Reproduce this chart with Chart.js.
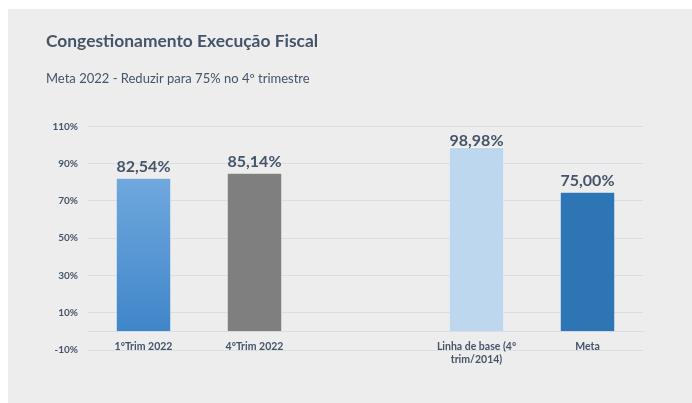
<!DOCTYPE html>
<html>
<head>
<meta charset="utf-8">
<script src="https://cdn.jsdelivr.net/npm/chart.js@4"></script>
<style>
  html, body { margin: 0; padding: 0; background: #ffffff; }
  #panel { position: absolute; left: 8px; top: 9px; width: 684px; height: 394px; background: #ededed; }
  #chart { display: block; }
</style>
</head>
<body>
<div id="panel"><canvas id="chart" width="684" height="394"></canvas></div>
<script>
const categories = ['1ºTrim 2022', '4ºTrim 2022', '', ['Linha de base (4º', 'trim/2014)'], 'Meta'];
const values = [82.54, 85.14, null, 98.98, 75.00];
const tickMin = -10;
const tickMax = 110;
const tickStep = 20;

const textColor = '#44546a';
const gridColor = '#d9dee5';
const barColors = [null, '#7f7f7f', null, '#bdd7ee', '#2e75b6'];

// blue gradient for the first bar, like the original
function barFill(ctx) {
  const color = barColors[ctx.dataIndex];
  if (color) return color;
  const chart = ctx.chart;
  if (!chart.chartArea) return '#5b9bd5';
  const y = chart.scales.y;
  const g = chart.ctx.createLinearGradient(0, y.getPixelForValue(values[0]), 0, y.getPixelForValue(0));
  g.addColorStop(0, '#70a8de');
  g.addColorStop(1, '#3f86c9');
  return g;
}

// value labels above the bars, kept inside the plot area
const valueLabels = {
  id: 'valueLabels',
  afterDatasetsDraw(chart) {
    const ctx = chart.ctx;
    const meta = chart.getDatasetMeta(0);
    ctx.save();
    ctx.font = 'bold 16px Lato';
    ctx.fillStyle = textColor;
    ctx.textAlign = 'center';
    ctx.textBaseline = 'alphabetic';
    meta.data.forEach((bar, i) => {
      const v = values[i];
      if (v == null) return;
      const txt = v.toFixed(2).replace('.', ',') + '%';
      const y = Math.max(bar.y - 6, chart.chartArea.top + 20);
      ctx.fillText(txt, bar.x, y);
    });
    ctx.restore();
  }
};

new Chart(document.getElementById('chart'), {
  type: 'bar',
  data: {
    labels: categories,
    datasets: [{
      data: values,
      backgroundColor: barFill,
      borderColor: 'rgba(255,255,255,0.35)',
      borderWidth: 1,
      barPercentage: 0.5,
      categoryPercentage: 1
    }]
  },
  options: {
    responsive: false,
    animation: false,
    layout: { padding: { left: 38, right: 49, top: 0, bottom: 53 } },
    plugins: {
      legend: { display: false },
      tooltip: { enabled: false },
      title: {
        display: true,
        text: 'Congestionamento Execução Fiscal',
        align: 'start',
        color: textColor,
        font: { family: 'Lato', size: 17.4, weight: 'bold' },
        padding: { top: 22, bottom: 19 }
      },
      subtitle: {
        display: true,
        text: 'Meta 2022 - Reduzir para 75% no 4º trimestre',
        align: 'start',
        color: textColor,
        font: { family: 'Lato', size: 13 },
        padding: { top: 0, bottom: 40 }
      }
    },
    scales: {
      x: {
        position: { y: 0 },
        grid: { display: false },
        border: { display: true, color: gridColor, width: 1 },
        ticks: {
          color: textColor,
          font: { family: 'Lato', size: 10.5, weight: 'bold', lineHeight: 1.25 },
          padding: 1,
          maxRotation: 0,
          autoSkip: false
        }
      },
      y: {
        min: tickMin,
        max: tickMax,
        grid: { color: gridColor, drawTicks: false },
        border: { display: false },
        afterFit(scale) { scale.width = 42; },
        ticks: {
          stepSize: tickStep,
          padding: 10,
          color: textColor,
          font: { family: 'Lato', size: 10, weight: 'bold' },
          callback: v => v + '%'
        }
      }
    }
  },
  plugins: [valueLabels]
});
</script>
</body>
</html>
